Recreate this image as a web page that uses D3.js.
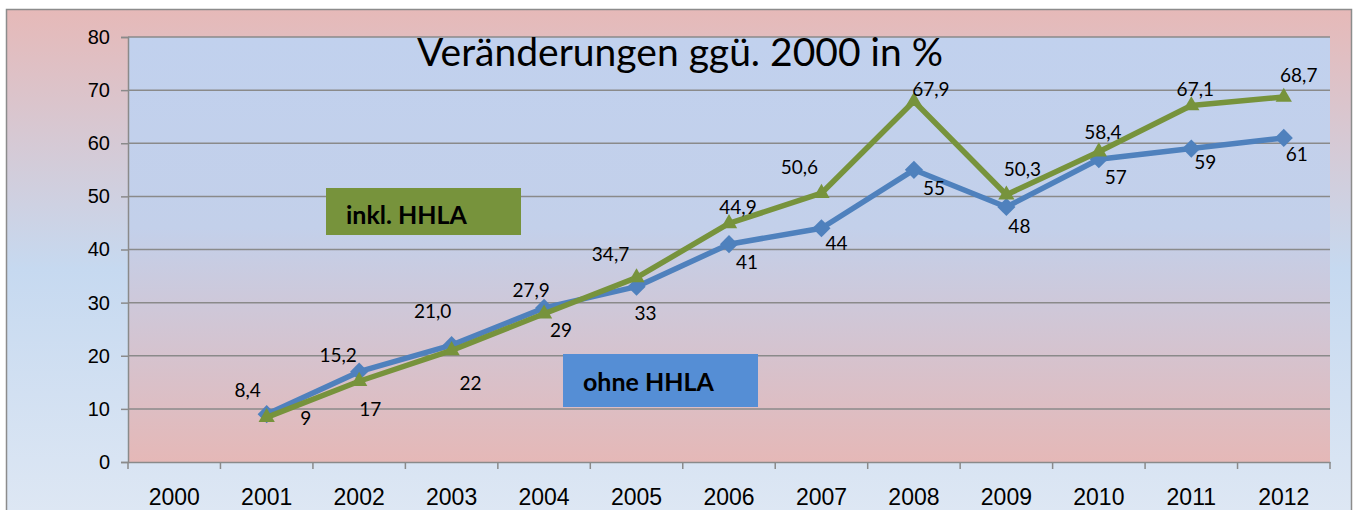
<!DOCTYPE html>
<html>
<head>
<meta charset="utf-8">
<script src="https://cdn.jsdelivr.net/npm/d3@7"></script>
<style>
  body { margin: 0; background: #fff; }
  svg { display: block; font-family: Lato, "Open Sans", sans-serif; }
</style>
</head>
<body>
<svg id="chart" width="1354" height="510"></svg>
<script>
// categories and values
var years = ["2000", "2001", "2002", "2003", "2004", "2005", "2006", "2007", "2008", "2009", "2010", "2011", "2012"];
var ohneYears = ["2001", "2002", "2003", "2004", "2005", "2006", "2007", "2008", "2009", "2010", "2011", "2012"];
var ohneHHLA = [9, 17, 22, 29, 33, 41, 44, 55, 48, 57, 59, 61];
var inklHHLA = [8.4, 15.2, 21.0, 27.9, 34.7, 44.9, 50.6, 67.9, 50.3, 58.4, 67.1, 68.7];
var yTicks = [0, 10, 20, 30, 40, 50, 60, 70, 80];

// manual label nudges (as in the original slide)
var inklDx = [-19, -21, -19, -13, -26, 9, -22, 17, 16, 4, 4, 15];
var inklDy = [-27, -26, -39, -23, -23, -16, -26, -12, -25, -19, -16, -22];
var ohneDx = [39, 11, 19, 17, 9, 18, 15, 20, 13, 17, 14, 13];
var ohneDy = [4, 38, 38, 22, 27, 18, 15, 19, 19, 18, 14, 16];

var svg = d3.select("#chart"),
    margin = {top: 37, right: 24, bottom: 48, left: 128},
    width = 1330 - margin.left,
    height = 462 - margin.top;

var defs = svg.append("defs");
var outerGrad = defs.append("linearGradient").attr("id", "outerGrad")
    .attr("x1", 0).attr("y1", 0).attr("x2", 0).attr("y2", 1);
outerGrad.append("stop").attr("offset", "0%").attr("stop-color", "#e6b9b8");
outerGrad.append("stop").attr("offset", "50%").attr("stop-color", "#c6d9f0");
outerGrad.append("stop").attr("offset", "100%").attr("stop-color", "#dfe8f4");

var plotGrad = defs.append("linearGradient").attr("id", "plotGrad")
    .attr("x1", 0).attr("y1", 0).attr("x2", 0).attr("y2", 1);
plotGrad.append("stop").attr("offset", "0%").attr("stop-color", "#c1d1ee");
plotGrad.append("stop").attr("offset", "45%").attr("stop-color", "#c3d0ea");
plotGrad.append("stop").attr("offset", "100%").attr("stop-color", "#e5b8b7");

// outer frame
svg.append("rect")
    .attr("x", 6.5).attr("y", 9.5)
    .attr("width", 1345).attr("height", 520)
    .attr("fill", "url(#outerGrad)")
    .attr("stroke", "#8c8c8c").attr("stroke-width", 1.5);

var g = svg.append("g").attr("transform", "translate(" + margin.left + "," + margin.top + ")");

g.append("rect")
    .attr("width", width).attr("height", height)
    .attr("fill", "url(#plotGrad)");

var x = d3.scaleBand().domain(years).range([0, width]);
var y = d3.scaleLinear().domain([0, 80]).range([height, 0]);

// gridlines
g.append("g")
    .selectAll("line")
    .data(yTicks.filter(function(d) { return d > 0; }))
    .enter().append("line")
    .attr("x1", 0).attr("x2", width)
    .attr("y1", function(d) { return y(d); })
    .attr("y2", function(d) { return y(d); })
    .attr("stroke", "#8a8a8a")
    .attr("stroke-width", 1.5);

// y axis
var yAxis = g.append("g")
    .call(d3.axisLeft(y).tickValues(yTicks).tickSize(7).tickPadding(11));
yAxis.select(".domain").attr("stroke", "#8a8a8a").attr("stroke-width", 1.5);
yAxis.selectAll(".tick line").attr("stroke", "#8a8a8a").attr("stroke-width", 1.5);
yAxis.selectAll("text").attr("font-size", "20px").attr("fill", "#000");

// x axis with ticks on category boundaries
var xAxis = g.append("g")
    .attr("transform", "translate(0," + height + ")")
    .call(d3.axisBottom(x).tickSize(0));
xAxis.select(".domain").attr("stroke", "#8a8a8a").attr("stroke-width", 1.5);
xAxis.selectAll("text")
    .attr("y", 43).attr("dy", 0)
    .attr("font-size", "23px").attr("fill", "#000");
xAxis.selectAll(".boundary")
    .data(years.concat(["end"]))
    .enter().append("line")
    .attr("x1", function(d, i) { return i * x.step(); })
    .attr("x2", function(d, i) { return i * x.step(); })
    .attr("y1", 0).attr("y2", 7)
    .attr("stroke", "#8a8a8a").attr("stroke-width", 1.5);

// title
g.append("text")
    .attr("x", 552).attr("y", 29)
    .attr("text-anchor", "middle")
    .attr("font-size", "39px")
    .attr("fill", "#000")
    .text("Veränderungen ggü. 2000 in %");

var cx = function(i) { return x(ohneYears[i]) + x.bandwidth() / 2; };

var line = d3.line()
    .x(function(d, i) { return cx(i); })
    .y(function(d) { return y(d); });

// ohne HHLA
g.append("path")
    .datum(ohneHHLA)
    .attr("fill", "none")
    .attr("stroke", "#4f81bd")
    .attr("stroke-width", 5.5)
    .attr("stroke-linejoin", "round")
    .attr("d", line);

g.selectAll(".diamond")
    .data(ohneHHLA)
    .enter().append("path")
    .attr("class", "diamond")
    .attr("transform", function(d, i) { return "translate(" + cx(i) + "," + y(d) + ")"; })
    .attr("d", d3.symbol().type(d3.symbolDiamond2).size(210))
    .attr("fill", "#4f81bd");

// inkl. HHLA
g.append("path")
    .datum(inklHHLA)
    .attr("fill", "none")
    .attr("stroke", "#77933c")
    .attr("stroke-width", 5.5)
    .attr("stroke-linejoin", "round")
    .attr("d", line);

g.selectAll(".tri")
    .data(inklHHLA)
    .enter().append("path")
    .attr("class", "tri")
    .attr("transform", function(d, i) { return "translate(" + cx(i) + "," + y(d) + ")"; })
    .attr("d", d3.symbol().type(d3.symbolTriangle2).size(190))
    .attr("fill", "#77933c");

// data labels
g.selectAll(".lblInkl")
    .data(inklHHLA)
    .enter().append("text")
    .attr("x", function(d, i) { return cx(i) + inklDx[i]; })
    .attr("y", function(d, i) { return y(d) + inklDy[i]; })
    .attr("dy", "0.35em")
    .attr("text-anchor", "middle")
    .attr("font-size", "19px")
    .attr("fill", "#000")
    .text(function(d) { return d3.format(".1f")(d).replace(".", ","); });

g.selectAll(".lblOhne")
    .data(ohneHHLA)
    .enter().append("text")
    .attr("x", function(d, i) { return cx(i) + ohneDx[i]; })
    .attr("y", function(d, i) { return y(d) + ohneDy[i]; })
    .attr("dy", "0.35em")
    .attr("text-anchor", "middle")
    .attr("font-size", "19px")
    .attr("fill", "#000")
    .text(function(d) { return d; });

// legend boxes
var legend = [
  {name: "inkl. HHLA", color: "#77933c", x: 198, y: 151, h: 47, base: 36},
  {name: "ohne HHLA", color: "#558ed5", x: 435, y: 317, h: 53, base: 37}
];
legend.forEach(function(l) {
  var lg = g.append("g").attr("transform", "translate(" + l.x + "," + l.y + ")");
  lg.append("rect").attr("width", 195).attr("height", l.h).attr("fill", l.color);
  lg.append("text")
    .attr("x", 20).attr("y", l.base)
    .attr("font-size", "25px").attr("font-weight", "bold")
    .attr("fill", "#000")
    .text(l.name);
});
</script>
</body>
</html>
